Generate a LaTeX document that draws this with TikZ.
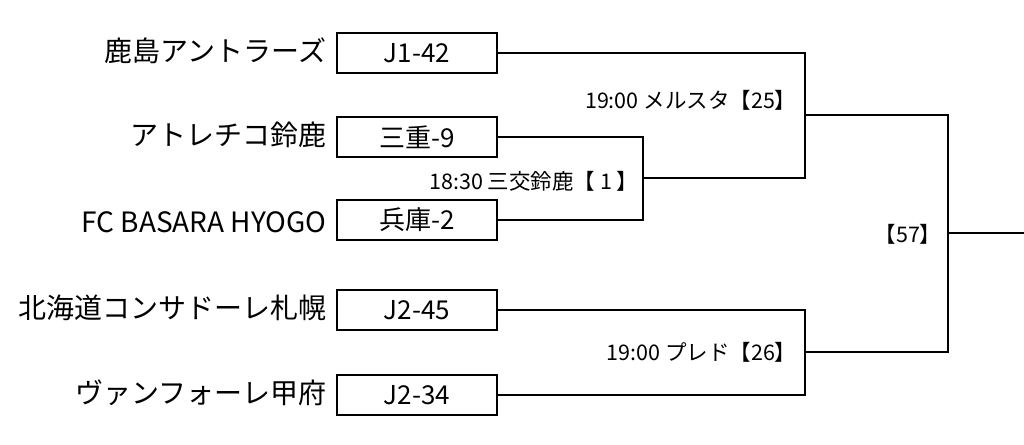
\documentclass[tikz,border=0pt]{standalone}
\usepackage{fontspec}
\setmainfont{Noto Sans CJK JP}
\begin{document}
\begin{tikzpicture}[x=1pt,y=-1pt,
  team/.style={anchor=east,font=\fontsize{28}{30}\selectfont},
  seed/.style={draw,line width=1.6pt,minimum width=160pt,minimum height=40pt,inner sep=0pt,font=\fontsize{26}{28}\selectfont},
  lbl/.style={anchor=east,font=\fontsize{21.5}{24}\selectfont},
  ln/.style={line width=1.6pt}]
\useasboundingbox (0,0) rectangle (1024,444);
\node[seed] (b1) at (417,53) {J1-42};
\node[seed] (b2) at (417,137) {三重-9};
\node[seed] (b3) at (417,220) {兵庫-2};
\node[seed] (b4) at (417,310) {J2-45};
\node[seed] (b5) at (417,395) {J2-34};
\node[team] (t1) at (330,51) {鹿島アントラーズ};
\node[team] (t2) at (330,135) {アトレチコ鈴鹿};
\node[team] (t3) at (330,222) {FC BASARA HYOGO};
\node[team] (t4) at (330,308) {北海道コンサドーレ札幌};
\node[team] (t5) at (330,393) {ヴァンフォーレ甲府};
\coordinate (m1) at (643,178);
\coordinate (m2) at (805,115);
\coordinate (m3) at (805,352);
\coordinate (m4) at (948,233);
\coordinate (e) at (1024,233);
\draw[ln] (b2.east) -| (m1) |- (b3.east);
\draw[ln] (b1.east) -| (m2) |- (m1);
\draw[ln] (b4.east) -| (m3) |- (b5.east);
\draw[ln] (m2) -| (m4) |- (m3);
\draw[ln] (m4) -- (e);
\node[lbl] (l1) at (800,100) {19:00 メルスタ【25】};
\node[lbl] (l2) at (642,181) {18:30 三交鈴鹿【 1 】};
\node[lbl] (l3) at (800,352) {19:00 プレド【26】};
\node[lbl] (l4) at (945,234) {【57】};
\end{tikzpicture}
\end{document}
